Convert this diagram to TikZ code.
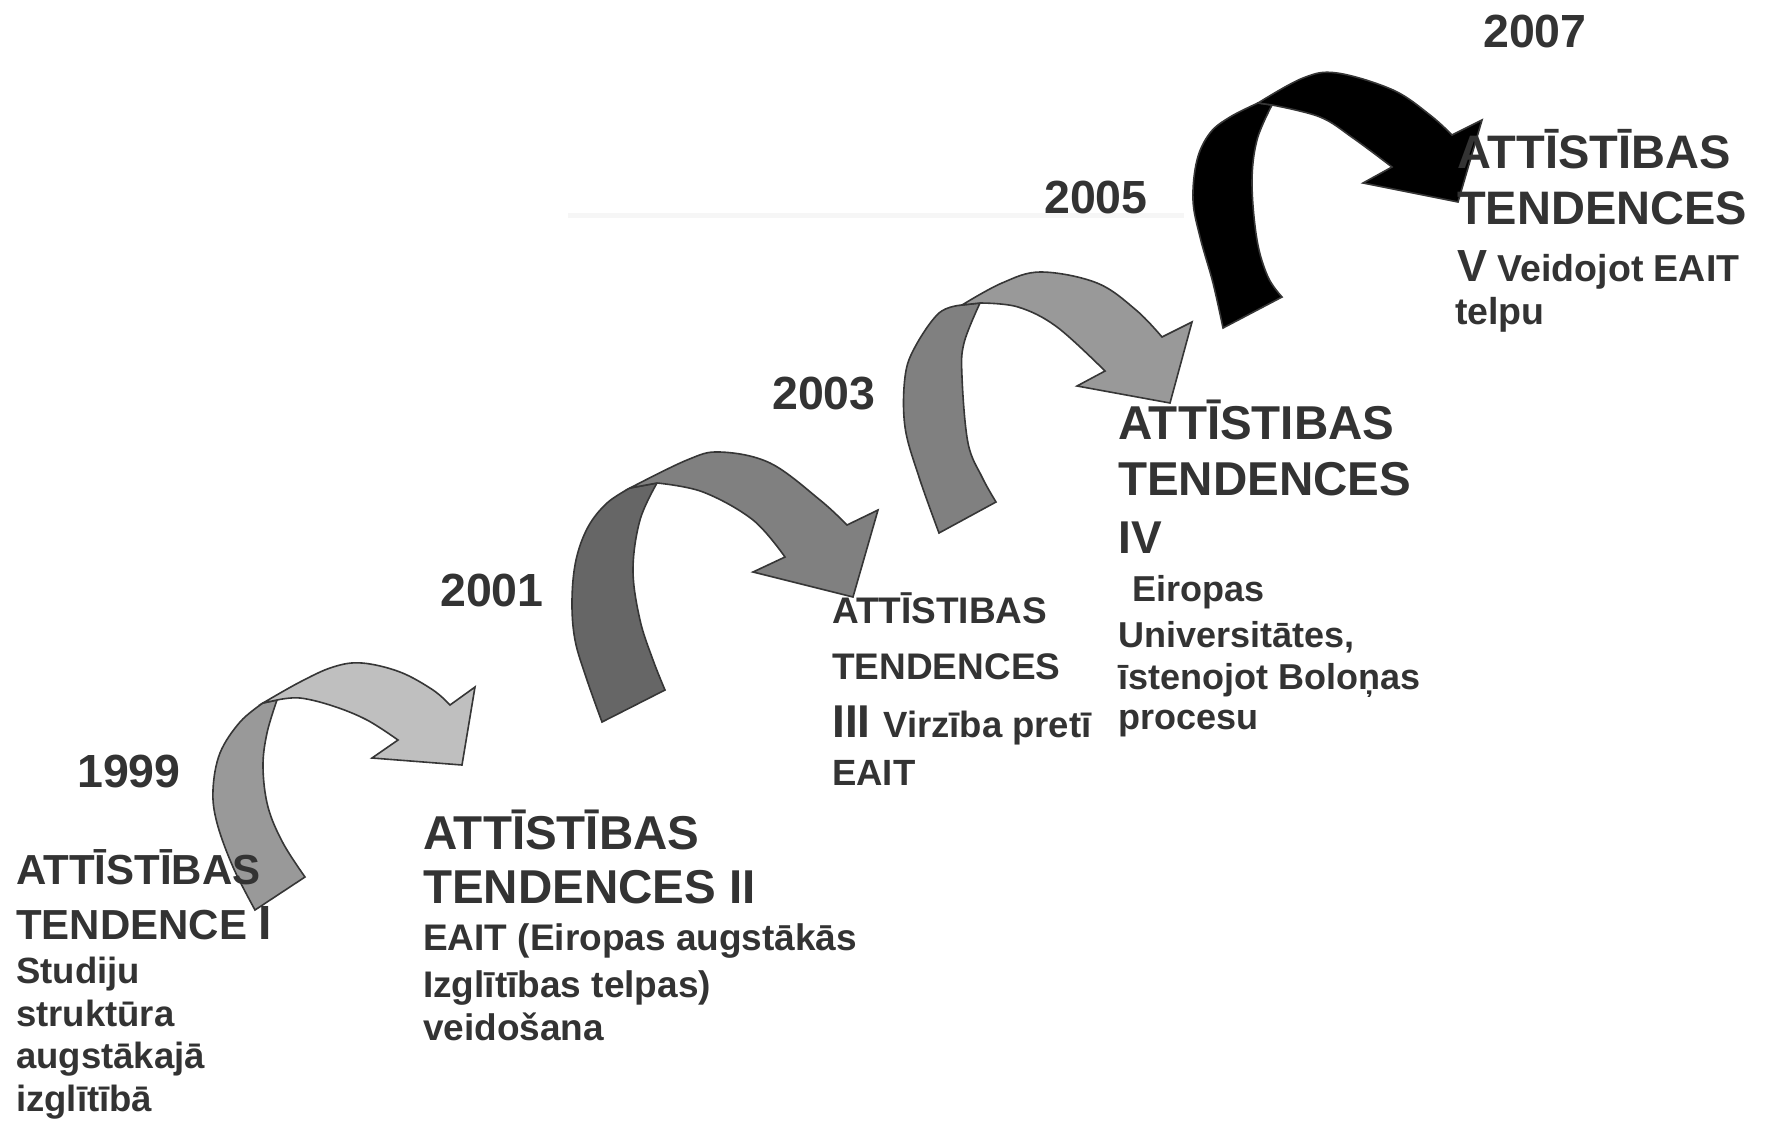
\documentclass[tikz,border=0pt]{standalone}
\usepackage{fontspec}
\setmainfont{Liberation Sans}
\definecolor{txtc}{HTML}{333333}
\definecolor{edgec}{HTML}{363636}
\definecolor{faint}{HTML}{F6F6F6}
\begin{document}
\begin{tikzpicture}[x=1pt,y=-1pt,
  t/.style={inner sep=0pt, anchor=base west, text=txtc, font=\fontsize{#1}{#1}\selectfont\bfseries},
  band/.style={draw=edgec, line width=1.6pt, line join=miter, fill=#1},
  sm/.style={smooth, tension=0.6}]
\useasboundingbox (0,0) rectangle (1766,1125);

% faint horizontal line
\draw[line width=5pt, faint] (568,215) -- (1184,215);

% ---------- arrow 1 (1999 -> 2001)
\path[band=black!40] (255,910) -- plot[sm] coordinates {(255,910) (233,867) (217,823) (213,790) (220,753) (240,722) (263,703)}
  -- (277,700) -- plot[sm] coordinates {(277,700) (267,733) (263,767) (268,807) (283,843) (305,877)} -- cycle;
\path[band=black!25] (263,703) -- plot[sm] coordinates {(263,703) (300,682) (333,667) (362,663) (400,672) (433,690) (450,705)}
  -- (475,687) -- (462,765) -- (372,758) -- (398,740)
  -- plot[sm] coordinates {(398,740) (367,720) (333,706) (300,698) (277,700)} -- cycle;

% ---------- arrow 2 (2001 -> 2003)
\path[band=black!60] (602,722) -- plot[sm] coordinates {(602,722) (587,680) (575,640) (572,600) (576,560) (588,527) (607,503) (630,488)}
  -- (657,483) -- plot[sm] coordinates {(657,483) (640,520) (633,570) (640,620) (653,660) (665,690)} -- cycle;
\path[band=black!50] (630,488) -- plot[sm] coordinates {(630,488) (687,460) (720,452) (770,463) (820,500) (847,525)}
  -- (878,510) -- (853,597) -- (753,572) -- (785,557)
  -- plot[sm] coordinates {(785,557) (753,520) (703,492) (657,483)} -- cycle;

% ---------- arrow 3 (2003 -> 2005)
\path[band=black!50] (939,533) -- plot[sm] coordinates {(939,533) (919,477) (905,427) (905,377) (915,347) (939,313) (962,305)}
  -- (980,303) -- plot[sm] coordinates {(980,303) (964,343) (962,377) (968,443) (982,477) (996,502)} -- cycle;
\path[band=black!40] (962,305) -- plot[sm] coordinates {(962,305) (1002,283) (1041,272) (1097,283) (1136,310) (1162,337)}
  -- (1192,322) -- (1170,403) -- (1077,386) -- (1105,371)
  -- plot[sm] coordinates {(1105,371) (1057,327) (1018,307) (980,303)} -- cycle;

% ---------- arrow 4 (2005 -> 2007)
\path[band=black] (1223,328) -- plot[sm] coordinates {(1223,328) (1213,283) (1200,237) (1193,200) (1197,160) (1210,133) (1230,117) (1258,103)}
  -- (1272,105) -- plot[sm] coordinates {(1272,105) (1257,140) (1252,183) (1257,240) (1268,277) (1282,297)} -- cycle;
\path[band=black] (1258,103) -- plot[sm] coordinates {(1258,103) (1303,78) (1337,73) (1393,90) (1430,115) (1452,135)}
  -- (1482,120) -- (1458,202) -- (1363,183) -- (1392,167)
  -- plot[sm] coordinates {(1392,167) (1353,138) (1320,117) (1272,105)} -- cycle;

% ---------- years
\node[t=46.5] (y1999) at (77,787) {1999};
\node[t=46.5] (y2001) at (440,606) {2001};
\node[t=46.5] (y2003) at (772,409) {2003};
\node[t=46.5] (y2005) at (1044,213) {2005};
\node[t=46.5] (y2007) at (1483,47) {2007};

% ---------- block I
\node[t=42] (a1) at (16,884) {ATTĪSTĪBAS};
\node[t=42] (a2) at (16,939) {TENDENCE {\fontsize{48}{48}\selectfont I}};
\node[t=36.5] (a3) at (16,983) {Studiju};
\node[t=36.5] (a4) at (16,1026) {struktūra};
\node[t=36.5] (a5) at (16,1068) {augstākajā};
\node[t=36.5] (a6) at (16,1111) {izglītībā};

% ---------- block II
\node[t=47.5] (b1) at (423,849) {ATTĪSTĪBAS};
\node[t=47.5] (b2) at (423,903) {TENDENCES II};
\node[t=37] (b3) at (423,950) {EAIT (Eiropas augstākās};
\node[t=37] (b4) at (423,997) {Izglītības telpas)};
\node[t=37] (b5) at (423,1040) {veidošana};

% ---------- block III
\node[t=37] (c1) at (832,623) {ATTĪSTIBAS};
\node[t=37] (c2) at (832,679) {TENDENCES};
\node[t=36.5] (c3) at (832,737) {{\fontsize{46}{46}\selectfont III }Virzība pretī};
\node[t=36.5] (c4) at (832,785) {EAIT};

% ---------- block IV
\node[t=47.5] (d1) at (1118,439) {ATTĪSTIBAS};
\node[t=47.5] (d2) at (1118,495) {TENDENCES};
\node[t=46] (d3) at (1118,553) {IV};
\node[t=36] (d4) at (1132,601) {Eiropas};
\node[t=36] (d5) at (1118,647) {Universitātes,};
\node[t=36] (d6) at (1118,689) {īstenojot Boloņas};
\node[t=36] (d7) at (1118,729) {procesu};

% ---------- block V
\node[t=47] (e1) at (1457,168) {ATTĪSTĪBAS};
\node[t=47] (e2) at (1457,224) {TENDENCES};
\node[t=37.5] (e3) at (1457,281) {{\fontsize{45}{45}\selectfont V} Veidojot EAIT};
\node[t=37.5] (e4) at (1455,324) {telpu};
\end{tikzpicture}
\end{document}
